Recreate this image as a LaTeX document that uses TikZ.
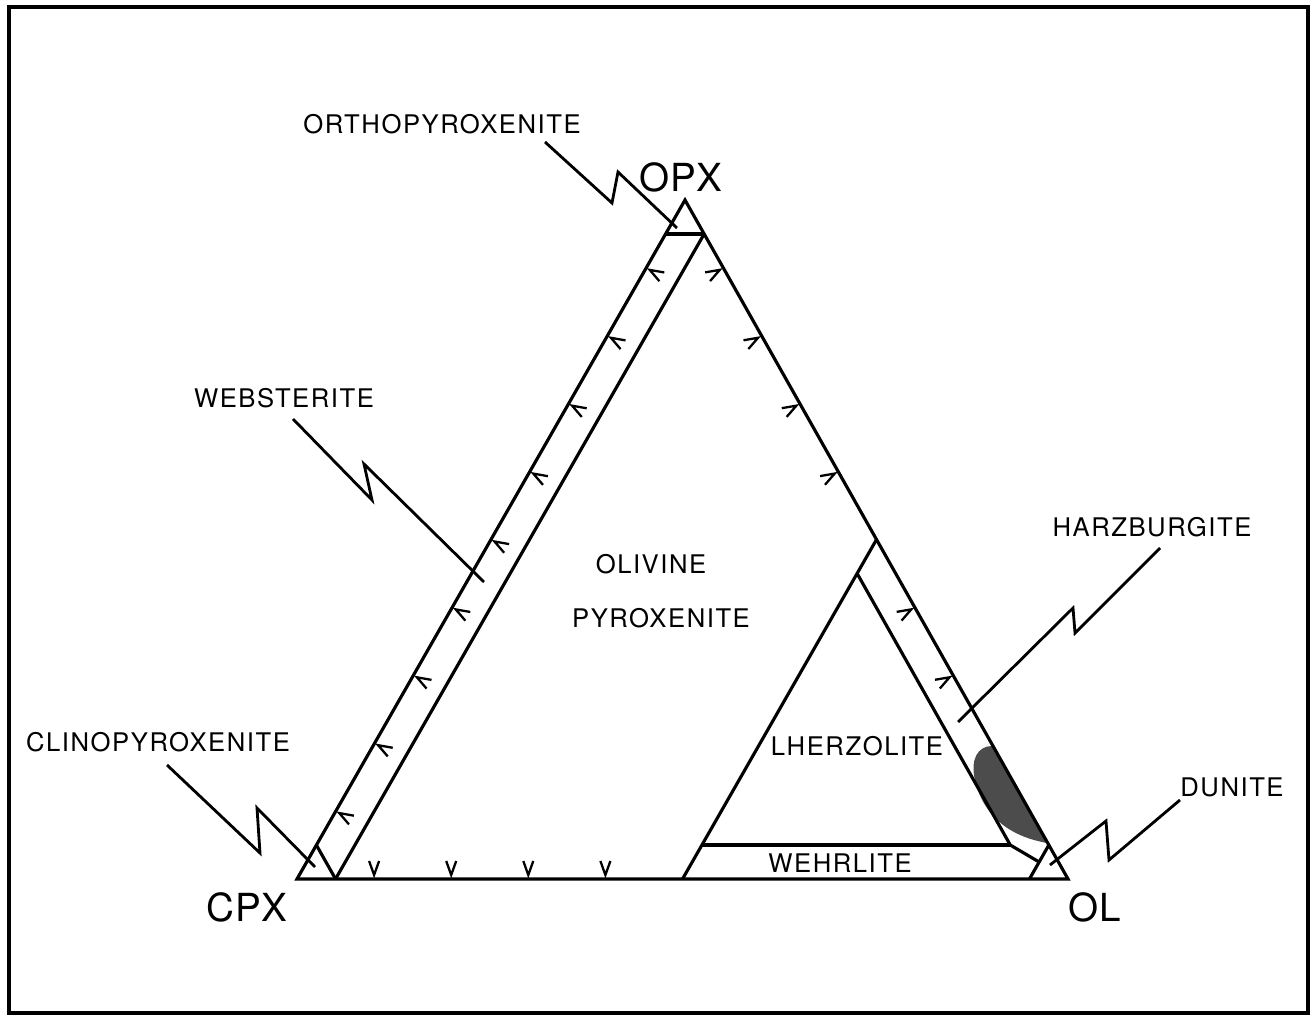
\documentclass[tikz,border=0pt]{standalone}
\usepackage{fontspec}
\newfontfamily\lbl[LetterSpace=6]{TeX Gyre Heros}
\newfontfamily\biglbl[LetterSpace=2]{TeX Gyre Heros}
\usetikzlibrary{calc}
\tikzstyle{edge} = [line width=1.8pt, line join=miter]
\tikzstyle{leader} = [line width=1.6pt, line join=miter]
\tikzset{chev/.pic={\draw[line width=1.3pt] (-5,-18) -- (0,-4) -- (5,-18);}}

\begin{document}
\begin{tikzpicture}
        [
            x=0.02cm, y=-0.02cm,
            lab/.style={font=\lbl\fontsize{14.6pt}{16pt}\selectfont, inner sep=0pt},
            big/.style={font=\biglbl\fontsize{22pt}{26pt}\selectfont, inner sep=0pt},
            blob/.style={fill=black!70},
        ]
    \useasboundingbox (0,0) rectangle (1312,1020);
    \draw[line width=2.2pt] (9,7) rectangle (1308,1013);

    % corners of the ternary
    \coordinate (opx) at (685,200);
    \coordinate (cpx) at (297,879);
    \coordinate (ol) at (1068,879);

    % sample field
    \fill[blob] (992,746) -- (1047,843) .. controls (1008,836) and (983,815) .. (975,780)
        .. controls (970,759) and (978,746) .. (992,746) -- cycle;

    \draw[edge] (opx) -- (cpx) -- (ol) -- cycle;

    % field boundaries
    \draw[edge] ($(opx)!0.05!(cpx)$) -- ($(opx)!0.05!(ol)$);
    \draw[edge] ($(cpx)!0.05!(ol)$) -- ($(opx)!0.05!(ol)$);
    \draw[edge] ($(cpx)!0.05!(ol)$) -- ($(cpx)!0.05!(opx)$);
    \draw[edge] ($(cpx)!0.5!(ol)$) -- ($(opx)!0.5!(ol)$);
    \draw[edge] ($(cpx)!0.95!(ol)$) -- ($(opx)!0.95!(ol)$);
    \coordinate (hz) at (barycentric cs:ol=0.9,cpx=0.05,opx=0.05);
    \draw[edge] (barycentric cs:ol=0.5,cpx=0.05,opx=0.45) -- (hz) -- (barycentric cs:ol=0.95,cpx=0.025,opx=0.025);
    \draw[edge] (barycentric cs:ol=0.5,cpx=0.45,opx=0.05) -- (hz);

    % ticks
    \foreach \f in {1,...,9}
        \pic[rotate=240.26] at ($(opx)!\f/10!(cpx)$) {chev};
    \foreach \f in {1,2,3,4,6,7}
        \pic[rotate=119.42] at ($(opx)!\f/10!(ol)$) {chev};
    \foreach \f in {1,...,4}
        \pic at ($(cpx)!\f/10!(ol)$) {chev};

    % labels
    \node[big] (opxlab) at (681,177) {OPX};
    \node[big] (cpxlab) at (247,907) {CPX};
    \node[big] (ollab) at (1095,907) {OL};
    \node[lab] (ortho) at (442,124) {ORTHOPYROXENITE};
    \node[lab] (webst) at (284,398) {WEBSTERITE};
    \node[lab] (olivine) at (651,564) {OLIVINE};
    \node[lab] (pyrox) at (661,618) {PYROXENITE};
    \node[lab] (harz) at (1152,527) {HARZBURGITE};
    \node[lab] (lherz) at (857,746) {LHERZOLITE};
    \node[lab] (wehr) at (840,863) {WEHRLITE};
    \node[lab] (clino) at (158,742) {CLINOPYROXENITE};
    \node[lab] (dunite) at (1232,787) {DUNITE};

    % leaders
    \coordinate (orthoS) at (545,142);
    \coordinate (orthoE) at (677,228);
    \coordinate (webstS) at (293,419);
    \coordinate (webstE) at (484,582);
    \coordinate (clinoS) at (167,765);
    \coordinate (clinoE) at (315,867);
    \coordinate (harzS) at (1160,548);
    \coordinate (harzE) at (958,722);
    \coordinate (duniteS) at (1180,800);
    \coordinate (duniteE) at (1050,865);
    \draw[leader] (orthoS) -- (612,203) -- (618,172) -- (orthoE);
    \draw[leader] (webstS) -- (372,500) -- (364,464) -- (webstE);
    \draw[leader] (clinoS) -- (260,853) -- (257,808) -- (clinoE);
    \draw[leader] (harzS) -- (1075,633) -- (1073,608) -- (harzE);
    \draw[leader] (duniteS) -- (1109,860) -- (1106,821) -- (duniteE);
    \end{tikzpicture}
\end{document}
